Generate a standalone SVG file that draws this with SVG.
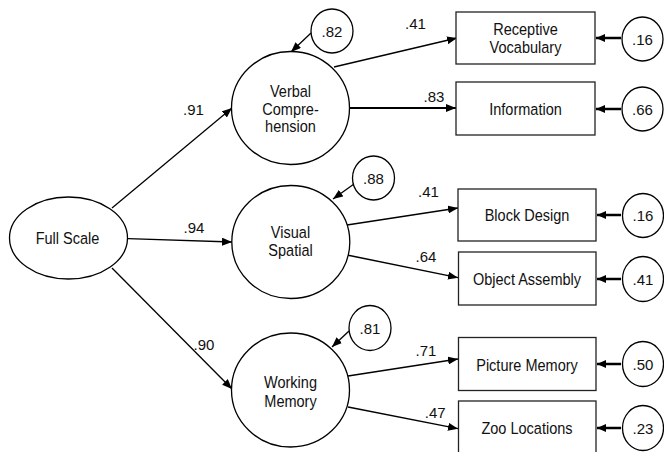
<svg xmlns="http://www.w3.org/2000/svg" width="664" height="452" viewBox="0 0 664 452">
<style>
.node{fill:#fff;stroke:#000;stroke-width:1.3}
.box{fill:#fff;stroke:#222;stroke-width:1.3}
.lbl{font-family:"Liberation Sans",Arial,sans-serif;font-size:16.5px;fill:#111;text-anchor:middle}
.num{font-family:"Liberation Sans",Arial,sans-serif;font-size:15px;fill:#111;text-anchor:middle}
.con{stroke:#000;stroke-width:1.3;fill:none;marker-end:url(#ah)}
.err{stroke:#000;stroke-width:2.5;fill:none;marker-end:url(#ah2)}
</style>
<defs>
<marker id="ah" markerUnits="userSpaceOnUse" markerWidth="10" markerHeight="8" refX="10" refY="4" orient="auto"><path d="M0,0 L10,4 L0,8 z" fill="#000"/></marker>
<marker id="ah2" markerUnits="userSpaceOnUse" markerWidth="9" markerHeight="8" refX="9" refY="4" orient="auto"><path d="M0,0 L9,4 L0,8 z" fill="#000"/></marker>
</defs>
<rect width="664" height="452" fill="#fff"/>
<g id="connectors">
<line class="con" x1="112" y1="208" x2="232" y2="108"/>
<line class="con" x1="128" y1="238.7" x2="232" y2="242"/>
<line class="con" x1="112" y1="268" x2="232" y2="389"/>
<line class="con" x1="334" y1="67" x2="457" y2="38"/>
<line class="con" x1="349.5" y1="108" x2="456" y2="108" style="stroke-width:2"/>
<line class="con" x1="347" y1="225" x2="458" y2="208"/>
<line class="con" x1="347" y1="255" x2="458" y2="277.7"/>
<line class="con" x1="348" y1="376" x2="458" y2="359"/>
<line class="con" x1="348" y1="407" x2="458" y2="428.7"/>
<line class="con" x1="311" y1="33" x2="291" y2="52"/>
<line class="con" x1="354" y1="184" x2="333" y2="199"/>
<line class="con" x1="349" y1="331" x2="332" y2="347"/>
<line class="err" x1="621" y1="38" x2="596" y2="38"/>
<line class="err" x1="621" y1="109" x2="596" y2="109"/>
<line class="err" x1="621" y1="215" x2="597" y2="215"/>
<line class="err" x1="621" y1="279" x2="597" y2="279"/>
<line class="err" x1="621" y1="364" x2="597" y2="364"/>
<line class="err" x1="621" y1="428" x2="597" y2="428"/>
<text class="num" x="415.5" y="29.3">.41</text>
<text class="num" x="434" y="101.5">.83</text>
<text class="num" x="193.5" y="115">.91</text>
<text class="num" x="194" y="233">.94</text>
<text class="num" x="204" y="350">.90</text>
<text class="num" x="428.5" y="196.7">.41</text>
<text class="num" x="426" y="261.7">.64</text>
<text class="num" x="426" y="356">.71</text>
<text class="num" x="435.3" y="418.3">.47</text>
</g>
<g id="full-scale">
<ellipse class="node" cx="68.5" cy="238" rx="59" ry="41"/>
<text class="lbl" transform="translate(67.5,244.3) scale(0.88,1)">Full Scale</text>
</g>
<g id="verbal">
<ellipse class="node" cx="290.5" cy="108" rx="59" ry="56.5"/>
<text class="lbl" transform="translate(290.5,96.7) scale(0.88,1)"><tspan x="0" y="0">Verbal</tspan><tspan x="0" y="18">Compre-</tspan><tspan x="0" y="35.6">hension</tspan></text>
</g>
<g id="visual">
<ellipse class="node" cx="290.8" cy="242" rx="59" ry="56.5"/>
<text class="lbl" transform="translate(290.5,238.3) scale(0.88,1)"><tspan x="0" y="0">Visual</tspan><tspan x="0" y="17.7">Spatial</tspan></text>
</g>
<g id="working">
<ellipse class="node" cx="290.5" cy="390" rx="59" ry="57"/>
<text class="lbl" transform="translate(290.5,388.3) scale(0.88,1)"><tspan x="0" y="0">Working</tspan><tspan x="0" y="18.4">Memory</tspan></text>
</g>
<g id="e-verbal">
<ellipse class="node" cx="332" cy="31" rx="21" ry="22"/>
<text class="num" x="332" y="36.5">.82</text>
</g>
<g id="e-visual">
<ellipse class="node" cx="373.5" cy="178" rx="21" ry="22"/>
<text class="num" x="373.5" y="183.5">.88</text>
</g>
<g id="e-working">
<ellipse class="node" cx="370" cy="328" rx="21" ry="22.5"/>
<text class="num" x="370" y="333.5">.81</text>
</g>
<g id="receptive">
<rect class="box" x="456" y="12" width="139" height="52"/>
<text class="lbl" transform="translate(525.5,35) scale(0.88,1)"><tspan x="0" y="0">Receptive</tspan><tspan x="0" y="18">Vocabulary</tspan></text>
</g>
<g id="information">
<rect class="box" x="456" y="82" width="139" height="53"/>
<text class="lbl" transform="translate(525.5,114.5) scale(0.88,1)">Information</text>
</g>
<g id="block">
<rect class="box" x="458" y="189" width="138" height="52"/>
<text class="lbl" transform="translate(527,221) scale(0.88,1)">Block Design</text>
</g>
<g id="object">
<rect class="box" x="458.5" y="252" width="137.5" height="53"/>
<text class="lbl" transform="translate(527,285) scale(0.88,1)">Object Assembly</text>
</g>
<g id="picture">
<rect class="box" x="458.5" y="337.5" width="137.5" height="53"/>
<text class="lbl" transform="translate(527,370.5) scale(0.88,1)">Picture Memory</text>
</g>
<g id="zoo">
<rect class="box" x="458.5" y="401" width="137.5" height="53"/>
<text class="lbl" transform="translate(527,434) scale(0.88,1)">Zoo Locations</text>
</g>
<g id="u-receptive"><ellipse class="node" cx="642.5" cy="39" rx="20.5" ry="22"/><text class="num" x="642.5" y="44.5">.16</text></g>
<g id="u-information"><ellipse class="node" cx="642.5" cy="109" rx="20.5" ry="22"/><text class="num" x="642.5" y="114.5">.66</text></g>
<g id="u-block"><ellipse class="node" cx="643" cy="215.5" rx="20.5" ry="22"/><text class="num" x="643" y="221">.16</text></g>
<g id="u-object"><ellipse class="node" cx="643" cy="279" rx="20.5" ry="22.5"/><text class="num" x="643" y="284.5">.41</text></g>
<g id="u-picture"><ellipse class="node" cx="643" cy="364" rx="20.5" ry="22.5"/><text class="num" x="643" y="369.5">.50</text></g>
<g id="u-zoo"><ellipse class="node" cx="643" cy="428" rx="20.5" ry="22.5"/><text class="num" x="643" y="433.5">.23</text></g>
</svg>
